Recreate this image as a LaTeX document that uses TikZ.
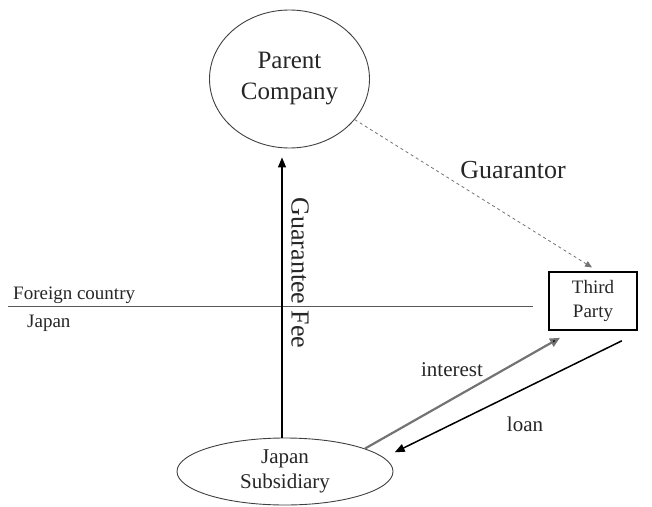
\documentclass[tikz,border=0pt]{standalone}
\usepackage{fontspec}
\setmainfont{Liberation Serif}
\usetikzlibrary{shapes.geometric,arrows.meta}

\newcommand{\bigtxt}{\fontsize{25}{31}\selectfont}
\newcommand{\midtxt}{\fontsize{21}{25}\selectfont}
\newcommand{\smalltxt}{\fontsize{19}{24}\selectfont}

\tikzset{
  party/.style={draw=black!75, line width=0.9pt, ellipse, inner sep=0pt},
  flow/.style={line width=1.5pt, -{Triangle[length=10pt,width=8pt]}},
  txt/.style={inner sep=0pt, text=black!85}
}

\begin{document}
\begin{tikzpicture}[x=1pt, y=-1pt]
  \useasboundingbox (0, 0) rectangle (652, 506);

  % Parent
  \node [party, minimum width=160pt, minimum height=138pt,
    label={[txt, align=center, font=\bigtxt]center:Parent\\Company}] (par) at (289.5, 79) {};

  % Third party
  \node [draw, line width=1.6pt, minimum width=88pt, minimum height=58pt,
    align=center, txt, font=\smalltxt] (third) at (593, 301) {Third\\Party};

  % Subsidiary
  \node [party, minimum width=216pt, minimum height=67pt,
    label={[txt, align=center, font=\midtxt]center:Japan\\Subsidiary}] (sub) at (285, 471.5) {};

  % Border
  \coordinate (bleft) at (8, 306.5);
  \coordinate (bright) at (533, 306.5);
  \draw [black!65, line width=1.2pt] (bleft) -- (bright);
  \node [txt, anchor=base west, font=\smalltxt] (foreign) at (13, 299) {Foreign country};
  \node [txt, anchor=base west, font=\smalltxt] (japan) at (27, 327) {Japan};

  % Guarantee fee
  \draw [flow] ([xshift=-3pt]sub.north) -- ([xshift=-7.5pt, yshift=-9pt]par.south);
  \node [txt, rotate=-90, font=\fontsize{26}{30}\selectfont] (fee) at (300, 273) {Guarantee Fee};

  % Guarantor
  \draw [black!55, line width=0.8pt, dashed, shorten >=7pt,
    -{Triangle[length=7pt,width=6pt]}] (par) -- ([xshift=5pt]third.north);
  \node [txt, font=\fontsize{26}{30}\selectfont] (guar) at (513, 170) {Guarantor};

  % Loan and interest
  \draw [flow, line width=2.2pt, draw=black!55, -{Triangle[length=10pt,width=9pt,fill=black]}]
        (sub.16) -- ([xshift=-33pt, yshift=-7pt]third.south);
  \node [txt, font=\midtxt] (interest) at (452, 370) {interest};
  \draw [flow, shorten >=12pt]
        ([xshift=-16pt, yshift=-10pt]third.south east) -- (sub.8);
  \node [txt, font=\midtxt] (loan) at (525, 424) {loan};
\end{tikzpicture}
\end{document}
